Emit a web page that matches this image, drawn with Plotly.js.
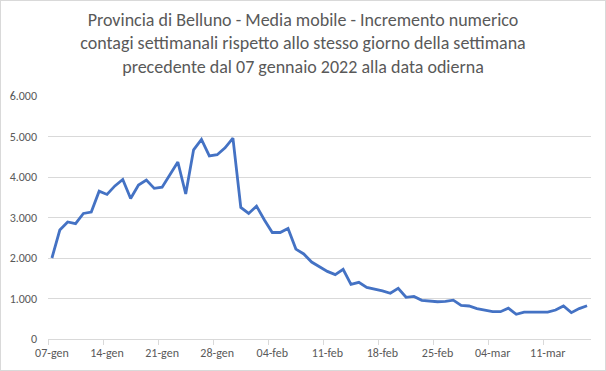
<!DOCTYPE html>
<html>
<head>
<meta charset="utf-8">
<script src="https://cdn.plot.ly/plotly-3.0.1.min.js"></script>
<style>
html,body{margin:0;padding:0;background:#fff;}
#chart{width:604px;height:369px;border:1px solid #d9d9d9;}
</style>
</head>
<body>
<div id="chart"></div>
<script>
const dates = [
  "07-gen","08-gen","09-gen","10-gen","11-gen","12-gen","13-gen",
  "14-gen","15-gen","16-gen","17-gen","18-gen","19-gen","20-gen",
  "21-gen","22-gen","23-gen","24-gen","25-gen","26-gen","27-gen",
  "28-gen","29-gen","30-gen","31-gen","01-feb","02-feb","03-feb",
  "04-feb","05-feb","06-feb","07-feb","08-feb","09-feb","10-feb",
  "11-feb","12-feb","13-feb","14-feb","15-feb","16-feb","17-feb",
  "18-feb","19-feb","20-feb","21-feb","22-feb","23-feb","24-feb",
  "25-feb","26-feb","27-feb","28-feb","01-mar","02-mar","03-mar",
  "04-mar","05-mar","06-mar","07-mar","08-mar","09-mar","10-mar",
  "11-mar","12-mar","13-mar","14-mar","15-mar","16-mar"
];
const mediaMobile = [
  2000, 2690, 2890, 2850, 3100, 3135, 3650,
  3570, 3780, 3940, 3470, 3800, 3925, 3720,
  3750, 4050, 4370, 3580, 4670, 4930, 4520,
  4550, 4720, 4960, 3250, 3100, 3280, 2940,
  2630, 2630, 2730, 2220, 2100, 1900, 1790,
  1670, 1590, 1720, 1350, 1400, 1275, 1235,
  1190, 1130, 1250, 1030, 1050, 955, 940,
  920, 930, 960, 830, 815, 750, 715,
  675, 675, 760, 610, 665, 665, 665,
  665, 715, 815, 650, 750, 820
];
const yTicks = [0, 1000, 2000, 3000, 4000, 5000, 6000];
const titleText = "Provincia di Belluno - Media mobile - Incremento numerico<br>contagi settimanali rispetto allo stesso giorno della settimana<br>precedente dal 07 gennaio 2022 alla data odierna";

const fontFam = "Carlito, Calibri, Lato, 'Open Sans', sans-serif";

const trace = {
  type: "scatter",
  mode: "lines",
  x: dates,
  y: mediaMobile,
  line: {color: "#4472c4", width: 2.8},
  hoverinfo: "x+y"
};

const layout = {
  width: 604,
  height: 369,
  margin: {l: 47, r: 14, t: 95, b: 31, pad: 0},
  paper_bgcolor: "#ffffff",
  plot_bgcolor: "#ffffff",
  separators: ",.",
  showlegend: false,
  title: {
    text: titleText,
    x: 0.5,
    xanchor: "center",
    yref: "container",
    y: 0.932,
    yanchor: "middle",
    font: {family: fontFam, size: 18, color: "#595959"}
  },
  font: {family: fontFam, color: "#595959", size: 12},
  xaxis: {
    type: "category",
    range: [-0.5, dates.length - 0.5],
    tickmode: "linear",
    tick0: 0,
    dtick: 7,
    tickson: "boundaries",
    tickangle: 0,
    ticks: "outside",
    ticklen: 5,
    tickcolor: "#d9d9d9",
    ticklabelstandoff: 3,
    showgrid: false,
    showline: true,
    linecolor: "#d9d9d9",
    linewidth: 1,
    zeroline: false,
    tickfont: {family: fontFam, size: 12, color: "#595959"},
    fixedrange: true
  },
  yaxis: {
    range: [0, 6000],
    tickmode: "array",
    tickvals: yTicks,
    tickformat: ",d",
    showgrid: true,
    gridcolor: "#d9d9d9",
    gridwidth: 1,
    zeroline: false,
    showline: false,
    ticks: "",
    ticklabelstandoff: 10,
    tickfont: {family: fontFam, size: 12, color: "#595959"},
    fixedrange: true
  }
};

Plotly.newPlot("chart", [trace], layout, {displayModeBar: false, staticPlot: true});
</script>
</body>
</html>
